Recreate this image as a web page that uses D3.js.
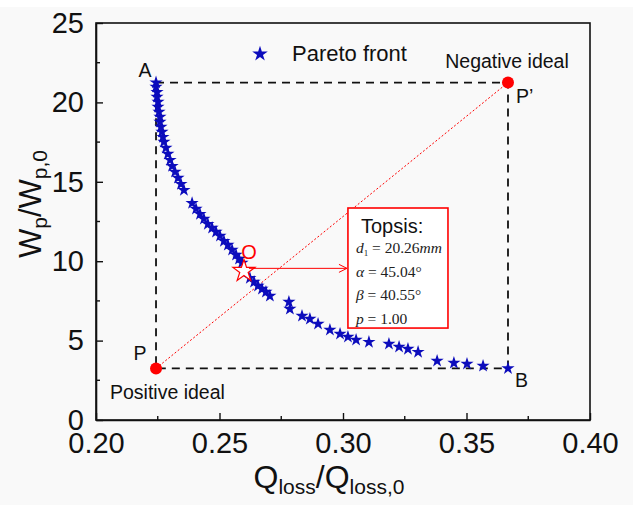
<!DOCTYPE html>
<html>
<head>
<meta charset="utf-8">
<script src="https://cdn.jsdelivr.net/npm/d3@7"></script>
<style>
  html, body { margin: 0; padding: 0; background: #fff; }
  svg { display: block; font-family: Arial, "Liberation Sans", sans-serif; }
</style>
</head>
<body>
<svg id="chart" width="633" height="505"></svg>
<script>
// Pareto front points
const paretoX = [0.2243, 0.2243, 0.2247, 0.2247, 0.2251, 0.2251, 0.2255, 0.2259, 0.2259, 0.2263,
  0.2267, 0.2271, 0.2275, 0.2283, 0.2291, 0.2300, 0.2308, 0.2320, 0.2332, 0.2344, 0.2356,
  0.2389, 0.2405, 0.2421, 0.2437, 0.2453, 0.2470, 0.2486, 0.2502, 0.2518, 0.2534, 0.2551,
  0.2567, 0.2579, 0.2591, 0.2623, 0.2640, 0.2656, 0.2672, 0.2688, 0.2704, 0.2781, 0.2785,
  0.2834, 0.2866, 0.2899, 0.2947, 0.2988, 0.3020, 0.3053, 0.3105, 0.3186, 0.3227, 0.3263,
  0.3304, 0.3381, 0.3449, 0.3502, 0.3567, 0.3668]
const paretoY = [21.25, 20.97, 20.65, 20.34, 20.03, 19.71, 19.40, 19.08, 18.77, 18.45,
  18.14, 17.82, 17.51, 17.13, 16.75, 16.37, 15.99, 15.62, 15.24, 14.86, 14.48,
  13.66, 13.29, 12.97, 12.66, 12.34, 12.09, 11.84, 11.59, 11.27, 11.02, 10.71,
  10.39, 10.14, 9.89, 8.94, 8.69, 8.44, 8.25, 8.06, 7.81, 7.43, 6.99,
  6.55, 6.36, 6.05, 5.67, 5.42, 5.23, 5.04, 4.91, 4.79, 4.60, 4.47,
  4.28, 3.72, 3.59, 3.53, 3.40, 3.25]

// ideal points and the chosen solution
const positiveIdeal = [0.2243, 3.25]
const negativeIdeal = [0.3668, 21.25]
const topsisPoint = [0.2599, 9.38]

const xTicks = [0.20, 0.25, 0.30, 0.35, 0.40]
const xMinor = [0.225, 0.275, 0.325, 0.375]
const yTicks = [0, 5, 10, 15, 20, 25]
const yMinor = [2.5, 7.5, 12.5, 17.5, 22.5]

const svg = d3.select('#chart')
const x = d3.scaleLinear().domain([0.2, 0.4]).range([96, 590])
const y = d3.scaleLinear().domain([0, 25]).range([420, 23])

svg.append('rect').attr('x', 0).attr('y', 7).attr('width', 633).attr('height', 498).attr('fill', '#f9f9f9')

// frame
svg.append('rect')
  .attr('x', x(0.2)).attr('y', y(25))
  .attr('width', x(0.4) - x(0.2)).attr('height', y(0) - y(25))
  .attr('fill', 'none').attr('stroke', '#111').attr('stroke-width', 1.6)

// axes with inward ticks
const xAxis = svg.append('g').attr('transform', `translate(0,${y(0)})`)
  .call(d3.axisBottom(x).tickValues(xTicks).tickFormat(d3.format('.2f')).tickSizeInner(-7).tickSizeOuter(0).tickPadding(12))
xAxis.append('g').selectAll('line').data(xMinor).join('line')
  .attr('x1', d => x(d)).attr('x2', d => x(d)).attr('y1', 0).attr('y2', -4)
  .attr('stroke', '#111').attr('stroke-width', 1.4)

const yAxis = svg.append('g').attr('transform', `translate(${x(0.2)},0)`)
  .call(d3.axisLeft(y).tickValues(yTicks).tickSizeInner(-7).tickSizeOuter(0).tickPadding(12))
yAxis.append('g').selectAll('line').data(yMinor).join('line')
  .attr('y1', d => y(d)).attr('y2', d => y(d)).attr('x1', 0).attr('x2', 4)
  .attr('stroke', '#111').attr('stroke-width', 1.4)

svg.selectAll('.domain').attr('stroke', '#111').attr('stroke-width', 1.6)
svg.selectAll('.tick line').attr('stroke', '#111').attr('stroke-width', 1.4)
svg.selectAll('.tick text').attr('font-size', 29).attr('fill', '#111')
  .attr('font-family', 'Arial, "Liberation Sans", sans-serif')

// axis titles
const xTitle = svg.append('text').attr('x', 329).attr('y', 488).attr('text-anchor', 'middle')
  .attr('font-size', 32).attr('fill', '#111')
xTitle.append('tspan').text('Q')
xTitle.append('tspan').text('loss').attr('font-size', 21).attr('dy', 6)
xTitle.append('tspan').text('/Q').attr('dy', -6)
xTitle.append('tspan').text('loss,0').attr('font-size', 21).attr('dy', 6)

const yTitle = svg.append('text').attr('transform', 'translate(41,204) rotate(-90)').attr('text-anchor', 'middle')
  .attr('font-size', 31).attr('fill', '#111')
yTitle.append('tspan').text('W')
yTitle.append('tspan').text('p').attr('font-size', 21).attr('dy', 6)
yTitle.append('tspan').text('/W').attr('dy', -6)
yTitle.append('tspan').text('p,0').attr('font-size', 21).attr('dy', 6)

// dashed rectangle between the ideal points
const [px, py] = positiveIdeal
const [nx, ny] = negativeIdeal
const dashLine = d3.line().x(d => x(d[0])).y(d => y(d[1]))
svg.append('path')
  .attr('d', dashLine([[px, ny], [nx, ny], [nx, py], [px, py], [px, ny]]))
  .attr('fill', 'none').attr('stroke', '#111').attr('stroke-width', 1.8).attr('stroke-dasharray', '8,6')

// dotted line P -> P'
svg.append('line')
  .attr('x1', x(px)).attr('y1', y(py)).attr('x2', x(nx)).attr('y2', y(ny))
  .attr('stroke', '#f00').attr('stroke-width', 1).attr('stroke-dasharray', '2,2')

// pareto stars
const star = d3.symbol().type(d3.symbolStar).size(54)
svg.append('g').selectAll('path').data(paretoX.map((v, i) => [v, paretoY[i]])).join('path')
  .attr('d', star)
  .attr('transform', d => `translate(${x(d[0])},${y(d[1])})`)
  .attr('fill', '#0c0cbc')

// chosen solution
svg.append('path')
  .attr('d', d3.symbol().type(d3.symbolStar).size(150)())
  .attr('transform', `translate(${x(topsisPoint[0])},${y(topsisPoint[1])})`)
  .attr('fill', '#fff').attr('stroke', '#f00').attr('stroke-width', 1.2)
svg.append('text').attr('x', x(topsisPoint[0]) + 5).attr('y', y(topsisPoint[1]) - 12)
  .attr('text-anchor', 'middle').attr('font-size', 20).attr('fill', '#f00').text('O')

// ideal points
svg.selectAll('circle.ideal').data([positiveIdeal, negativeIdeal]).join('circle')
  .attr('class', 'ideal')
  .attr('cx', d => x(d[0])).attr('cy', d => y(d[1])).attr('r', 6)
  .attr('fill', '#f00')

// topsis box
const boxL = x(0.302), boxR = x(0.3425), boxT = y(13.35), boxB = y(5.79)
svg.append('rect').attr('x', boxL).attr('y', boxT).attr('width', boxR - boxL).attr('height', boxB - boxT)
  .attr('fill', '#fff').attr('stroke', '#f00').attr('stroke-width', 1.6)

// arrow from solution to box
const arrowY = y(9.55)
svg.append('line').attr('x1', x(topsisPoint[0]) + 5).attr('y1', arrowY).attr('x2', boxL - 1).attr('y2', arrowY)
  .attr('stroke', '#f00').attr('stroke-width', 1)
svg.append('path').attr('d', `M${boxL - 9},${arrowY - 4}L${boxL - 1},${arrowY}L${boxL - 9},${arrowY + 4}`)
  .attr('fill', 'none').attr('stroke', '#f00').attr('stroke-width', 1)

svg.append('text').attr('x', boxL + 13).attr('y', boxT + 25).attr('font-size', 20).attr('fill', '#111').text('Topsis:')
const serif = 'Times New Roman, "Liberation Serif", "DejaVu Serif", serif'
const mathRows = [
  {v: 'd', sub: '1', rest: ' = 20.26', unit: 'mm'},
  {v: 'α', rest: ' = 45.04°'},
  {v: 'β', rest: ' = 40.55°'},
  {v: 'p', rest: ' = 1.00'},
]
mathRows.forEach((r, i) => {
  const t = svg.append('text').attr('x', boxL + 8).attr('y', boxT + 45 + i * 23.5)
    .attr('font-size', 15.5).attr('font-family', serif).attr('fill', '#222')
  t.append('tspan').text(r.v).attr('font-style', 'italic')
  if (r.sub) t.append('tspan').text(r.sub).attr('font-size', 9).attr('dy', 3)
  t.append('tspan').text(r.rest).attr('dy', r.sub ? -3 : 0)
  if (r.unit) t.append('tspan').text(r.unit).attr('font-style', 'italic')
})

// legend
svg.append('path').attr('d', d3.symbol().type(d3.symbolStar).size(75)())
  .attr('transform', 'translate(260,54)').attr('fill', '#0c0cbc')
svg.append('text').attr('x', 292).attr('y', 61).attr('font-size', 22).attr('fill', '#111').text('Pareto front')

// point labels
const labels = [
  {t: 'A', x: 145, y: 77, a: 'middle'},
  {t: 'Negative ideal', x: 507, y: 68, a: 'middle'},
  {t: 'P’', x: 516, y: 103, a: 'start'},
  {t: 'B', x: 515, y: 387, a: 'start'},
  {t: 'P', x: 140, y: 360, a: 'middle'},
  {t: 'Positive ideal', x: 110, y: 399, a: 'start'},
]
svg.append('g').selectAll('text').data(labels).join('text')
  .attr('x', d => d.x).attr('y', d => d.y).attr('text-anchor', d => d.a)
  .attr('font-size', 19.5).attr('fill', '#111').text(d => d.t)
</script>
</body>
</html>
